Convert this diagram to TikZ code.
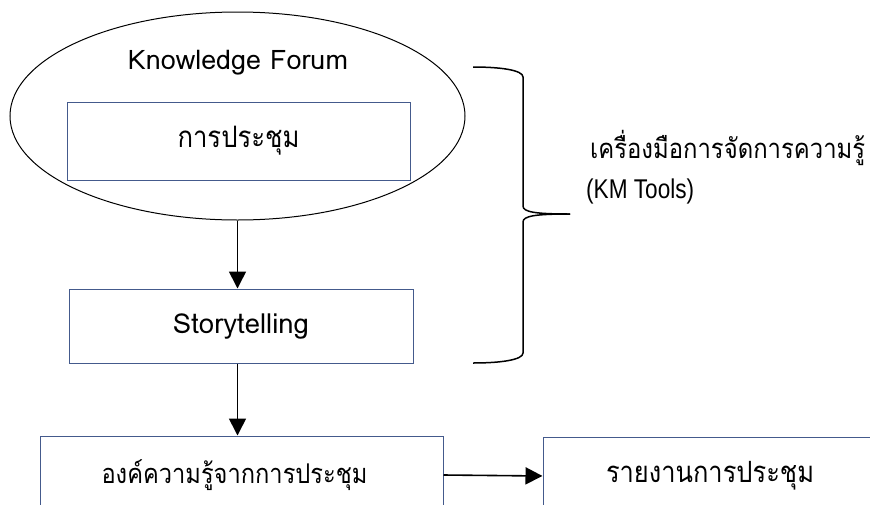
\documentclass[tikz,border=0pt]{standalone}
\usepackage{fontspec}
\usepackage{graphicx}
\usetikzlibrary{arrows.meta,shapes.geometric}
\newfontfamily\thaif[Script=Thai]{Loma}
\newfontfamily\arialf{Liberation Sans}
\newcommand{\fitw}[2]{\scalebox{1}[1.15]{\resizebox{#1}{!}{#2}}}
\newcommand{\fitl}[2]{\resizebox{#1}{!}{#2}}
\definecolor{boxline}{RGB}{68,90,140}
\tikzset{
  boxnode/.style={draw=boxline,line width=1pt,rectangle,inner sep=0pt,font=\thaif},
  flowarrow/.style={line width=1.6pt,-{Triangle[length=17pt,width=17pt]}},
  bracepath/.style={line width=1.5pt},
}
\begin{document}
\begin{tikzpicture}[x=1pt,y=-1pt]
\clip (0,0) rectangle (870,504);
\useasboundingbox (0,0) rectangle (870,504);
% ellipse
\node[draw=black,line width=1pt,ellipse,minimum width=455pt,minimum height=208pt,inner sep=0pt] (forum) at (237.5,116) {};
\node[inner sep=0pt] (forumlbl) at (238,63) {\fitl{220pt}{\thaif Knowledge Forum}};
\node[boxnode,minimum width=343pt,minimum height=78pt] (meet) at (238.5,141) {\fitw{122pt}{\thaif การประชุม}};
\node[boxnode,minimum width=344pt,minimum height=74pt] (story) at (241,326) {\fitl{136pt}{\thaif Storytelling}};
\node[boxnode,minimum width=403pt,minimum height=78pt] (know) at (241.5,475) {\makebox[0pt][c]{\fitw{266pt}{\thaif องค์ความรู้จากการประชุม}\hspace*{14pt}}};
\node[boxnode,minimum width=334pt,minimum height=78pt] (report) at (710,476) {\fitw{208pt}{\thaif รายงานการประชุม}};
% connectors
\draw[flowarrow] (forum.south) -- (forum.south |- story.north);
\draw[flowarrow] (story.south -| forum.south) -- (forum.south |- know.north);
\draw[flowarrow] (know.east) -- (report.west);
% brace
\coordinate (btop) at (473,67);
\coordinate (btip) at (570,214);
\coordinate (bbot) at (473,363);
\draw[bracepath] (btop) .. controls (500,67) and (523,70) .. (523,77) -- (523,206) .. controls (523,212) and (535,214) .. (btip);
\draw[bracepath] (btip) .. controls (535,214) and (523,216) .. (523,222) -- (523,353) .. controls (523,360) and (500,363) .. (bbot);
% labels
\node[anchor=west,inner sep=0pt] (kmthai) at (590,148) {\fitw{275pt}{\thaif เครื่องมือการจัดการความรู้}};
\node[anchor=west,inner sep=0pt] (kmen) at (586,191) {\scalebox{1}[1.2]{\resizebox{108pt}{!}{\arialf (KM Tools)}}};
\end{tikzpicture}
\end{document}
